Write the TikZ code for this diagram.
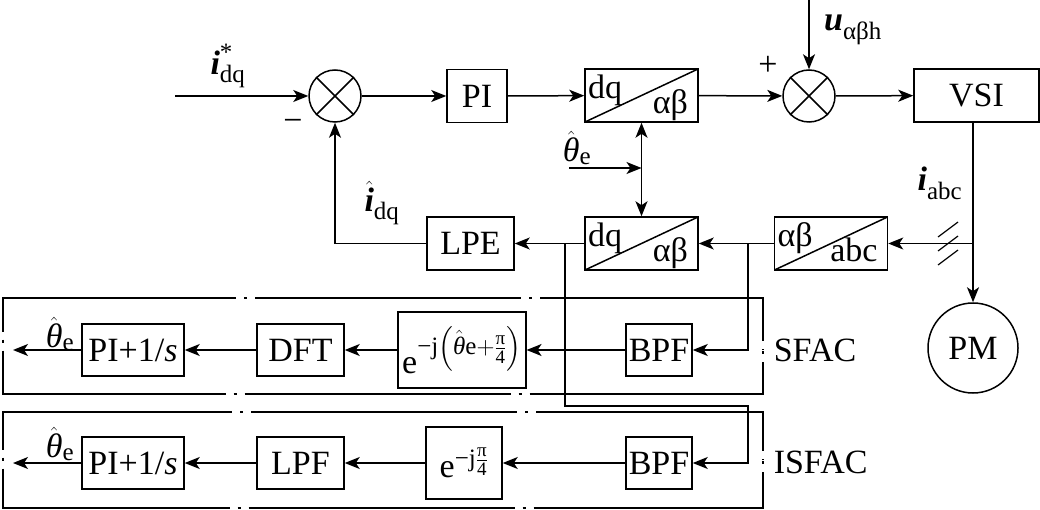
\documentclass[tikz,border=0pt]{standalone}
\usepackage{amsmath}
\usepackage{fontspec}
\setmainfont{Liberation Serif}
\DeclareMathSizes{34}{34}{25}{19}
\usetikzlibrary{arrows.meta}

\begin{document}
\begin{tikzpicture}[x=1pt,y=-1pt,line width=1.5pt,
  every node/.style={font=\fontsize{34}{40}\selectfont,inner sep=0pt},
  blk/.style={draw,minimum height=53pt},
  conv/.style={draw,minimum width=113pt,minimum height=53pt,
    path picture={\draw (path picture bounding box.south west)--(path picture bounding box.north east);}},
  tl/.style={label={[anchor=north west,xshift=3pt,yshift=-6pt]north west:#1}},
  br/.style={label={[anchor=base east,xshift=-10pt,yshift=9pt]south east:#1}},
  sumc/.style={draw,circle,minimum size=52pt},
  arr/.style={-{Stealth[length=15pt,width=12pt,inset=4pt]}},
  arr2/.style={{Stealth[length=15pt,width=12pt,inset=4pt]}-{Stealth[length=15pt,width=12pt,inset=4pt]}},
  frame/.style={dash pattern=on 266pt off 8pt on 3pt off 8pt,dash phase=275.5pt}]
\useasboundingbox (0,0) rectangle (1040,510);
% current loop
\coordinate (in) at (175,96);
\node[sumc] (s1) at (335,96) {};
\node[blk,minimum width=60pt] (pi) at (477,96) {PI};
\node[conv,tl=dq,br=αβ] (t1) at (641.5,95.5) {};
\node[sumc] (s2) at (809,96) {};
\node[blk,minimum width=125pt] (vsi) at (976.5,95.5) {VSI};
\coordinate (u) at (809,0);
\foreach \s in {s1,s2}
  \draw (\s.north west) -- (\s.south east) (\s.north east) -- (\s.south west);
\draw[arr] (in) -- (s1);
\draw[arr] (s1) -- (pi);
\draw[arr] (pi) -- (t1);
\draw[arr] (t1) -- (s2);
\draw[arr] (s2) -- (vsi);
\draw[arr] (u) -- (s2);
\node (lref) at (228,66) {$\text{\bfseries\itshape i}^{\text{*}}_{\text{dq}}$};
\node (lminus) at (293,125) {−};
\node (lplus) at (768,66) {+};
\node (lu) at (853,30) {$\text{\bfseries\itshape u}_{\text{αβh}}$};
% feedback path
\node[draw,circle,minimum size=90pt] (pm) at (973,348) {PM};
\coordinate (ja) at (973,243.5);
\draw[arr] (vsi.south -| pm) -- (pm);
\node[conv,tl=αβ,br=abc] (t3) at (831,243.5) {};
\node[conv,tl=dq,br=αβ] (t2) at (641.5,243.5) {};
\node[blk,minimum width=87pt] (lpe) at (470.5,243.5) {LPE};
\draw[arr] (ja) -- (t3);
\draw[arr] (t3) -- (t2);
\draw[arr] (t2) -- (lpe);
\draw[arr] (lpe) -| (s1);
\foreach \d in {-14,0,14}
  \draw[line width=1.2pt] (938,243.5+\d+7.5) -- (958,243.5+\d-7.5);
\node (liabc) at (940,183) {$\text{\bfseries\itshape i}_{\text{abc}}$};
\node (lidq) at (382,203) {$\hat{\text{\bfseries\itshape i}}_{\text{dq}}$};
% angle input
\coordinate (th) at (569,168);
\draw[arr] (th) -- (th -| t1);
\draw[arr2] (t2) -- (t1);
\node (lth) at (577,148) {$\hat{\text{\itshape θ}}_{\text{e}}$};
% SFAC
\coordinate (b1) at (748,243.5);
\node[blk,minimum width=66pt,minimum height=52pt] (bpf1) at (659,350) {BPF};
\node[blk,minimum width=116pt,minimum height=76pt,inner xsep=4pt] (r1) at (462,350)
  {$\text{e}^{\text{−j}\left(\hat{\text{\itshape θ}}\text{e}+\frac{\text{π}}{\text{4}}\right)}$};
\node[blk,minimum width=87pt,minimum height=52pt] (dft) at (300.5,350) {DFT};
\node[blk,minimum width=102pt,minimum height=52pt] (pis1) at (133,350) {PI+1/\textit{s}};
\coordinate (o1) at (13,350);
\draw[arr] (b1) |- (bpf1);
\draw[arr] (bpf1) -- (r1);
\draw[arr] (r1) -- (dft);
\draw[arr] (dft) -- (pis1);
\draw[arr] (pis1) -- (o1);
\node (lth1) at (60,334) {$\hat{\text{\itshape θ}}_{\text{e}}$};
\draw[frame] (763,350) |- (3,298) |- (763,394) -- cycle;
\node[anchor=west] (sfac) at (773,350) {SFAC};
% ISFAC
\coordinate (b2) at (565,243.5);
\coordinate (k) at (748,406);
\node[blk,minimum width=66pt,minimum height=52pt] (bpf2) at (659,463) {BPF};
\node[blk,minimum width=76pt,minimum height=72pt] (r2) at (464,463)
  {$\text{e}^{\text{−j}\frac{\text{π}}{\text{4}}}$};
\node[blk,minimum width=87pt,minimum height=52pt] (lpf) at (300.5,463) {LPF};
\node[blk,minimum width=102pt,minimum height=52pt] (pis2) at (133,463) {PI+1/\textit{s}};
\coordinate (o2) at (13,463);
\draw[arr] (b2) |- (k) |- (bpf2);
\draw[arr] (bpf2) -- (r2);
\draw[arr] (r2) -- (lpf);
\draw[arr] (lpf) -- (pis2);
\draw[arr] (pis2) -- (o2);
\node (lth2) at (60,444) {$\hat{\text{\itshape θ}}_{\text{e}}$};
\draw[frame] (763,460) |- (3,412) |- (763,508) -- cycle;
\node[anchor=west] (isfac) at (773,462) {ISFAC};
\end{tikzpicture}
\end{document}
